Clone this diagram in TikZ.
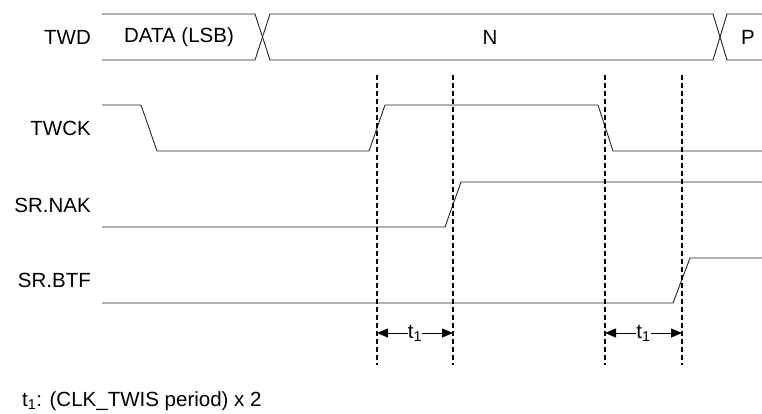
\documentclass[tikz,border=0pt]{standalone}
\usepackage{fontspec}
\setmainfont{Liberation Sans}
\usetikzlibrary{arrows.meta,calc}
\begin{document}
\begin{tikzpicture}[x=1pt,y=-1pt,
  sig/.style={line width=0.9pt,black!85,line join=miter},
  guide/.style={line width=1.1pt,dash pattern=on 5pt off 3pt},
  lbl/.style={font=\fontsize{20.5}{24}\selectfont,inner sep=0pt},
  meas/.style={line width=0.8pt,-{Triangle[length=11pt,width=9pt]}}]
\useasboundingbox (0,0) rectangle (762,413);
% labels
\node[lbl,anchor=east] (ltwd) at (91,37) {TWD};
\node[lbl,anchor=east] (ltwck) at (91,128) {TWCK};
\node[lbl,anchor=east] (lnak) at (91,205) {SR.NAK};
\node[lbl,anchor=east] (lbtf) at (91,280) {SR.BTF};
% TWD bus
\draw[sig] (102,14) -- (255,14) -- (270,60) -- (713,60) -- (727,14) -- (762,14);
\draw[sig] (102,60) -- (255,60) -- (270,14) -- (713,14) -- (727,60) -- (762,60);
\node[lbl] (data) at (179,37) {DATA (LSB)};
\node[lbl] (n) at (490,37) {N};
\node[lbl] (p) at (748,37) {P};
% TWCK
\draw[sig] (102,105) -- (141,105) -- (157,151) -- (369,151) -- (385,105) -- (598,105) -- (613,151) -- (762,151);
% SR.NAK
\draw[sig] (102,227) -- (445,227) -- (461,182) -- (762,182);
% SR.BTF
\draw[sig] (102,303) -- (673,303) -- (690,258) -- (762,258);
% dashed guides
\foreach \n/\x in {a/377,b/453,c/605,d/682}{
  \coordinate (\n top) at (\x,75);
  \coordinate (\n bot) at (\x,365);
  \coordinate (\n m) at (\x,333);
  \draw[guide] (\n top) -- (\n bot);
}
% measurements
\node[lbl] (t1a) at ($(am)!0.5!(bm)$) {t\textsubscript{1}};
\draw[meas] (t1a) -- (am);
\draw[meas] (t1a) -- (bm);
\node[lbl] (t1b) at ($(cm)!0.5!(dm)$) {t\textsubscript{1}};
\draw[meas] (t1b) -- (cm);
\draw[meas] (t1b) -- (dm);
% footnote
\node[lbl,anchor=west] (note) at (22,401) {t\textsubscript{1}: (CLK\_TWIS period) x 2};
\end{tikzpicture}
\end{document}
